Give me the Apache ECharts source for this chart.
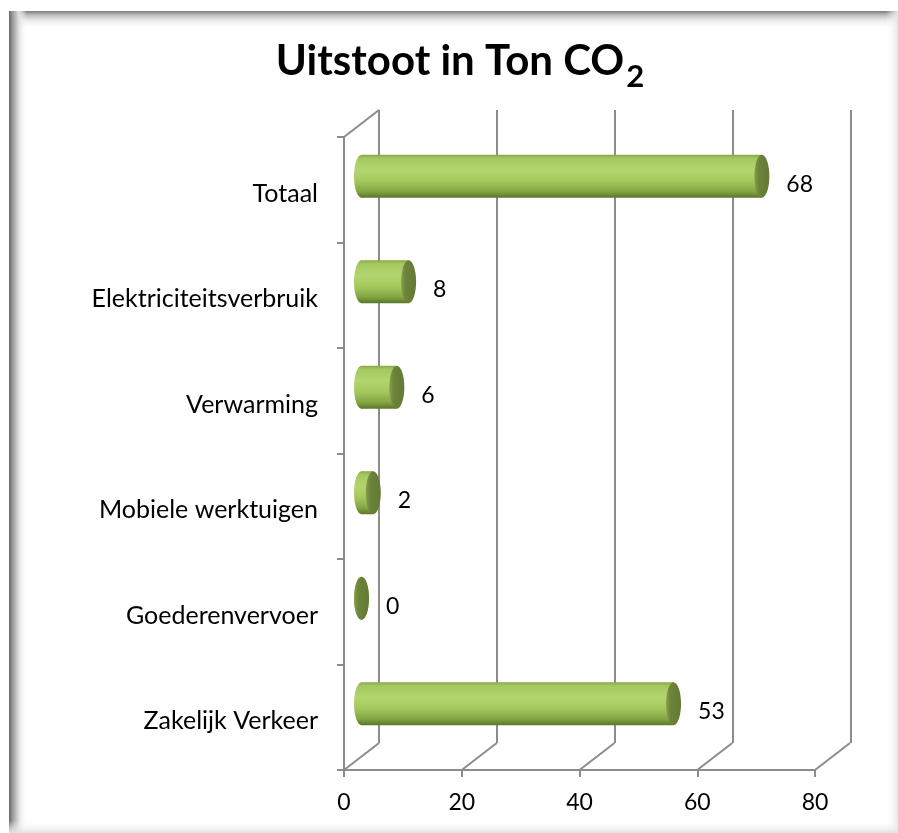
<!DOCTYPE html>
<html><head><meta charset="utf-8">
<script src="https://cdn.jsdelivr.net/npm/echarts@6/dist/echarts.min.js"></script>
<style>html,body{margin:0;padding:0;background:#fff}#c{width:898px;height:833px}</style>
</head><body><div id="c"></div>
<script>
// ---- data ----
const titleMain = 'Uitstoot in Ton CO';
const titleSub = '2';
const categories = ['Totaal', 'Elektriciteitsverbruik', 'Verwarming', 'Mobiele werktuigen', 'Goederenvervoer', 'Zakelijk Verkeer'];
const values = [68, 8, 6, 2, 0, 53];
const xTicks = [0, 20, 40, 60, 80];

// ---- style constants ----
const FONT = 'Lato';
const LINE = '#8c8c8c';
const DEPTH_X = 35, DEPTH_Y = -27;   // back wall offset
const BAR_DX = 17.5, BAR_DY = -13.5; // bars sit at mid depth
const BAR_H = 43, CAP_RX = 7.5;
const TITLE_SIZE = 42, SUB_SIZE = 31;

const chart = echarts.init(document.getElementById('c'), null, {renderer: 'canvas'});

const ctx = document.createElement('canvas').getContext('2d');
ctx.font = 'bold ' + TITLE_SIZE + 'px ' + FONT;
const wMain = ctx.measureText(titleMain).width;
ctx.font = 'bold ' + SUB_SIZE + 'px ' + FONT;
const wSub = ctx.measureText(titleSub).width;
const titleCenter = 460;
const titleLeft = titleCenter - (wMain + 2 + wSub) / 2;

const bodyFill = () => new echarts.graphic.LinearGradient(0, 0, 0, 1, [
  {offset: 0, color: '#86a748'},
  {offset: 0.08, color: '#a4c85f'},
  {offset: 0.35, color: '#b3d56f'},
  {offset: 0.6, color: '#a5c95e'},
  {offset: 0.85, color: '#85a644'},
  {offset: 1, color: '#5a7629'}
]);
const capFill = () => new echarts.graphic.LinearGradient(0, 0, 1, 0, [
  {offset: 0, color: '#84a04c'},
  {offset: 0.3, color: '#6c833a'},
  {offset: 1, color: '#637935'}
]);

function renderCyl(params, api) {
  const v = api.value(0), c = api.value(1);
  const p0 = api.coord([0, c]), p1 = api.coord([v, c]);
  const cy = p0[1] + BAR_DY, x0 = p0[0] + BAR_DX, x1 = p1[0] + BAR_DX;
  return {
    type: 'group',
    children: [
      {type: 'ellipse', shape: {cx: x0, cy: cy, rx: CAP_RX, ry: BAR_H / 2}, style: {fill: bodyFill()}},
      {type: 'rect', shape: {x: x0, y: cy - BAR_H / 2, width: x1 - x0, height: BAR_H}, style: {fill: bodyFill()}},
      {type: 'ellipse', shape: {cx: x1, cy: cy, rx: CAP_RX, ry: BAR_H / 2}, style: {fill: capFill()}},
      {type: 'text', style: {text: String(values[params.dataIndex]), x: x1 + CAP_RX + 17, y: cy + 8,
        align: 'left', verticalAlign: 'middle', fontFamily: FONT, fontSize: 23, fill: '#000'}}
    ]
  };
}

function renderDiag(params, api) {
  const cs = params.coordSys;
  const x = api.coord([api.value(0), 0])[0];
  const yb = cs.y + cs.height;
  const st = {stroke: LINE, lineWidth: 2};
  const children = [{type: 'line', shape: {x1: x, y1: yb, x2: x + DEPTH_X, y2: yb + DEPTH_Y}, style: st}];
  if (params.dataIndex === 0) {
    children.push({type: 'line', shape: {x1: cs.x, y1: cs.y, x2: cs.x + DEPTH_X, y2: cs.y + DEPTH_Y}, style: st});
  }
  return {type: 'group', children: children};
}

const option = {
  animation: false,
  backgroundColor: '#ffffff',
  graphic: [
    {type: 'rect', shape: {x: 9, y: 11, width: 889, height: 16}, style: {fill: new echarts.graphic.LinearGradient(0, 0, 0, 1, [
      {offset: 0, color: '#7a7a7a'}, {offset: 0.25, color: '#bdbdbd'}, {offset: 0.6, color: '#ececec'}, {offset: 1, color: '#ffffff'}])}, silent: true},
    {type: 'rect', shape: {x: 9, y: 11, width: 18, height: 822}, style: {fill: new echarts.graphic.LinearGradient(0, 0, 1, 0, [
      {offset: 0, color: '#666666'}, {offset: 0.2, color: '#9a9a9a'}, {offset: 0.55, color: '#e0e0e0'}, {offset: 1, color: 'rgba(255,255,255,0)'}])}, silent: true},
    {type: 'rect', shape: {x: 886, y: 11, width: 12, height: 822}, style: {fill: new echarts.graphic.LinearGradient(0, 0, 1, 0, [
      {offset: 0, color: 'rgba(255,255,255,0)'}, {offset: 1, color: '#e6e6e6'}])}, silent: true},
    {type: 'rect', shape: {x: 9, y: 820, width: 889, height: 13}, style: {fill: new echarts.graphic.LinearGradient(0, 0, 0, 1, [
      {offset: 0, color: 'rgba(255,255,255,0)'}, {offset: 1, color: '#e2e2e2'}])}, silent: true},
    {type: 'text', left: titleLeft, top: 40, style: {text: titleMain, fontFamily: FONT, fontWeight: 'bold', fontSize: TITLE_SIZE, fill: '#000'}, silent: true},
    {type: 'text', left: titleLeft + wMain + 2, top: 61, style: {text: titleSub, fontFamily: FONT, fontWeight: 'bold', fontSize: SUB_SIZE, fill: '#000'}, silent: true}
  ],
  grid: [
    {left: 344, top: 137, right: 83, bottom: 63},
    {left: 379, top: 110, right: 47, bottom: 90}
  ],
  xAxis: [
    {type: 'value', gridIndex: 0, min: 0, max: 80, interval: 20,
      axisLine: {show: true, lineStyle: {color: LINE, width: 2}},
      axisTick: {show: true, length: 7, lineStyle: {color: LINE, width: 2}},
      axisLabel: {fontFamily: FONT, fontSize: 23, color: '#000', margin: 21, formatter: v => String(xTicks[xTicks.indexOf(v)])},
      splitLine: {show: false}},
    {type: 'value', gridIndex: 1, min: 0, max: 80, interval: 20,
      axisLine: {show: false}, axisTick: {show: false}, axisLabel: {show: false},
      splitLine: {show: true, lineStyle: {color: LINE, width: 2}}}
  ],
  yAxis: [
    {type: 'category', gridIndex: 0, data: categories, inverse: true,
      axisLine: {show: true, lineStyle: {color: LINE, width: 2}},
      axisTick: {show: true, length: 7, lineStyle: {color: LINE, width: 2}},
      axisLabel: {color: '#000', margin: 26, formatter: v => '{c|' + v + '}',
        rich: {c: {fontFamily: FONT, fontSize: 25, color: '#000', padding: [8, 0, 0, 0]}}},
      splitLine: {show: false}},
    {type: 'category', gridIndex: 1, data: categories, inverse: true,
      axisLine: {show: false}, axisTick: {show: false}, axisLabel: {show: false}, splitLine: {show: false}}
  ],
  series: [
    {type: 'custom', xAxisIndex: 0, yAxisIndex: 0, silent: true, z: 1, renderItem: renderDiag,
      data: xTicks.map(t => [t, 0])},
    {type: 'custom', xAxisIndex: 0, yAxisIndex: 0, silent: true, z: 5, renderItem: renderCyl,
      data: values.map((v, i) => [v, i])}
  ]
};
chart.setOption(option);
</script>
</body></html>
